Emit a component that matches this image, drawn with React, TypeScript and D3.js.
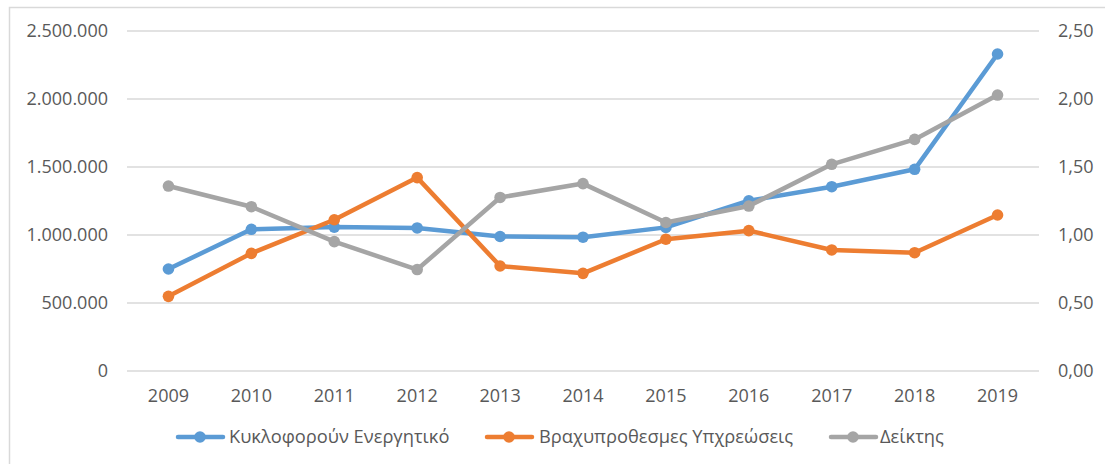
import React from "react";
import * as d3 from "d3";

const years = ["2009", "2010", "2011", "2012", "2013", "2014", "2015", "2016", "2017", "2018", "2019"];
const currentAssets = [750000, 1042000, 1058000, 1052000, 989000, 984000, 1056000, 1252000, 1355000, 1483000, 2331000];
const shortTermLiabilities = [549000, 865000, 1112000, 1422000, 772000, 718000, 969000, 1032000, 890000, 870000, 1147000];
const ratio = [1.36, 1.208, 0.951, 0.746, 1.276, 1.378, 1.092, 1.213, 1.52, 1.703, 2.029];
const leftTicks = [0, 500000, 1000000, 1500000, 2000000, 2500000];
const rightTicks = [0, 0.5, 1, 1.5, 2, 2.5];
const seriesNames = ["Κυκλοφορούν Ενεργητικό", "Βραχυπροθεσμες Υπχρεώσεις", "Δείκτης"];
const colors = ["#5B9BD5", "#ED7D31", "#A5A5A5"];

const W = 1105;
const H = 464;
const plotLeft = 127;
const plotRight = 1039;
const plotTop = 31;
const plotBottom = 371;

const fmtLeft = (v: number) => d3.format(",")(v).replace(/,/g, ".");
const fmtRight = (v: number) => v.toFixed(2).replace(".", ",");

export default function App() {
  const x = d3.scaleBand<string>().domain(years).range([plotLeft, plotRight]);
  const yL = d3.scaleLinear().domain([0, 2500000]).range([plotBottom, plotTop]);
  const yR = d3.scaleLinear().domain([0, 2.5]).range([plotBottom, plotTop]);
  const cx = (yr: string) => (x(yr) as number) + x.bandwidth() / 2;

  const series = [
    { name: seriesNames[0], values: currentAssets, y: yL, color: colors[0] },
    { name: seriesNames[1], values: shortTermLiabilities, y: yL, color: colors[1] },
    { name: seriesNames[2], values: ratio, y: yR, color: colors[2] },
  ];

  const font = "'Open Sans', sans-serif";
  const textColor = "#595959";

  const legendItems = [
    { lineX: 178, textX: 229 },
    { lineX: 487, textX: 539 },
    { lineX: 831, textX: 880 },
  ];

  return (
    <svg
      width={W}
      height={H}
      style={{ position: "absolute", left: 0, top: 0, background: "#fff" }}
      fontFamily={font}
    >
      <rect x={0} y={0} width={W} height={H} fill="#fff" />
      <rect x={9.5} y={7.5} width={W + 20} height={H + 20} fill="none" stroke="#D9D9D9" strokeWidth={1.5} />
      {leftTicks.map((t) => (
        <line key={"g" + t} x1={plotLeft} x2={plotRight} y1={yL(t)} y2={yL(t)} stroke="#D9D9D9" strokeWidth={1.3} />
      ))}
      {leftTicks.map((t) => (
        <text key={"l" + t} x={108} y={yL(t)} dy="0.35em" textAnchor="end" fontSize={18} fill={textColor}>
          {fmtLeft(t)}
        </text>
      ))}
      {rightTicks.map((t) => (
        <text key={"r" + t} x={1058} y={yR(t)} dy="0.35em" textAnchor="start" fontSize={18} fill={textColor}>
          {fmtRight(t)}
        </text>
      ))}
      {years.map((yr) => (
        <text key={"x" + yr} x={cx(yr)} y={396} dy="0.35em" textAnchor="middle" fontSize={18} fill={textColor}>
          {yr}
        </text>
      ))}
      {series.map((s) => {
        const line = d3
          .line<number>()
          .x((_, i) => cx(years[i]))
          .y((v) => s.y(v));
        return (
          <g key={s.name}>
            <path d={line(s.values) || ""} fill="none" stroke={s.color} strokeWidth={4.5} strokeLinejoin="round" strokeLinecap="round" />
            {s.values.map((v, i) => (
              <circle key={i} cx={cx(years[i])} cy={s.y(v)} r={5.8} fill={s.color} />
            ))}
          </g>
        );
      })}
      {series.map((s, i) => (
        <g key={"leg" + i}>
          <line x1={legendItems[i].lineX} x2={legendItems[i].lineX + 45} y1={437} y2={437} stroke={s.color} strokeWidth={4.5} strokeLinecap="round" />
          <circle cx={legendItems[i].lineX + 22} cy={437} r={5.8} fill={s.color} />
          <text x={legendItems[i].textX} y={437} dy="0.35em" fontSize={18.3} fill={textColor}>
            {s.name}
          </text>
        </g>
      ))}
    </svg>
  );
}
